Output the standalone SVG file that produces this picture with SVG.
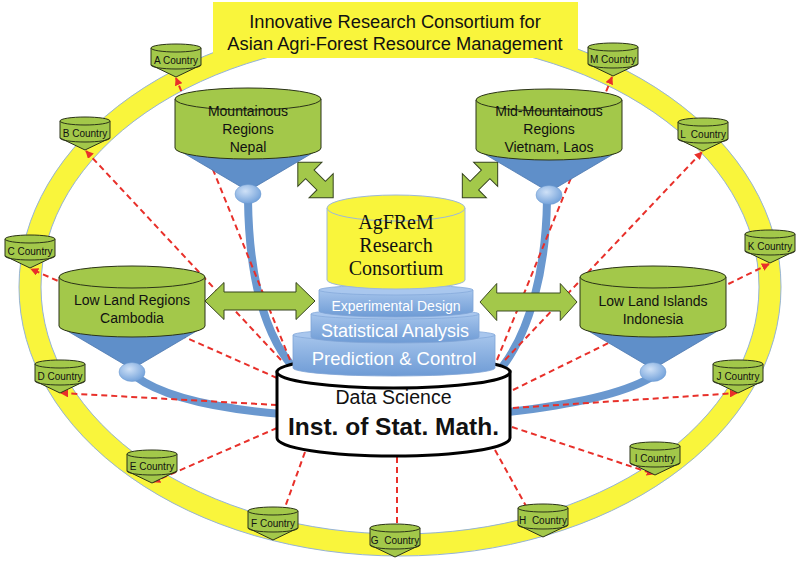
<svg xmlns="http://www.w3.org/2000/svg" width="800" height="567" viewBox="0 0 800 567">
<defs>
  <linearGradient id="tier" x1="0" y1="0" x2="0" y2="1">
    <stop offset="0" stop-color="#A6C5EC"/>
    <stop offset="1" stop-color="#6E9BD5"/>
  </linearGradient>
  <radialGradient id="ballg" cx="0.4" cy="0.35" r="0.7">
    <stop offset="0" stop-color="#CFE1F7"/>
    <stop offset="1" stop-color="#6F9FD9"/>
  </radialGradient>
  <marker id="ah" viewBox="0 0 10 10" refX="9" refY="5" markerWidth="4" markerHeight="4" orient="auto">
    <path d="M0,0 L10,5 L0,10 Z" fill="#E8302A"/>
  </marker>
  <g id="cshape">
    <path class="green" d="M-25,-29 V-12 L0,0 L25,-12 V-29 Z"/>
    <path class="cline" d="M-25,-12 A25 4 0 0 0 25,-12"/>
    <ellipse class="green" cx="0" cy="-29" rx="25" ry="4"/>
  </g>
  <g id="rshape">
    <polygon class="funnel" points="-73,49 73,49 0,92"/>
    <ellipse class="ball" cx="0" cy="95" rx="13" ry="9.5"/>
    <path class="green" d="M-73,0 V49 A73 11 0 0 0 73,49 V0 Z"/>
    <ellipse class="green" cx="0" cy="0" rx="73" ry="11"/>
  </g>
  <polygon id="harrowL" class="arrow" points="-55,0 -36,-18.5 -36,-9 36,-9 36,-18.5 55,0 36,18.5 36,9 -36,9 -36,18.5"/>
  <polygon id="darrow" class="arrow" points="-25,0 -8,-17 -8,-6 8,-6 8,-17 25,0 8,17 8,6 -8,6 -8,17"/>
</defs>
<style>
  .ring{fill:none;stroke:#F9F53C;stroke-width:22}
  .ringedge{fill:none;stroke:#95B3D7;stroke-width:1}
  .dash{fill:none;stroke:#E8302A;stroke-width:2;stroke-dasharray:6 4}
  .arr{marker-end:url(#ah)}
  .tube{fill:none;stroke:#6A98CF;stroke-width:8;stroke-linecap:round}
  .green{fill:#A3C84A;stroke:#2B3318;stroke-width:1}
  .cline{fill:none;stroke:#2B3318;stroke-width:1}
  .funnel{fill:#5F8FC9;stroke:#4A76AE;stroke-width:0.8}
  .ball{fill:url(#ballg);stroke:#6A98CF;stroke-width:0.5}
  .arrow{fill:#A3C84A;stroke:#34421C;stroke-width:1}
  .t{font-family:"Liberation Sans",Arial,sans-serif;text-anchor:middle;fill:#111}
  .ct{font-size:10px;white-space:pre}
  .rt{font-size:14px}
  .title{font-size:18.3px}
  .serif{font-family:"Liberation Serif","Times New Roman",serif;font-size:20px;text-anchor:middle;fill:#111}
  .tierbody{fill:url(#tier);stroke:#7FA3D6;stroke-width:0.8}
  .tiertop{fill:#A9C7EE;stroke:#85A9DA;stroke-width:0.8}
  .wt{fill:#fff}
</style>

<g id="ring">
  <ellipse class="ring" cx="400" cy="287" rx="370" ry="258"/>
  <ellipse class="ringedge" cx="400" cy="287" rx="381" ry="269"/>
  <ellipse class="ringedge" cx="400" cy="287" rx="359" ry="247"/>
</g>

<g id="title">
  <rect x="213" y="2" width="365" height="56" fill="#F9F53C"/>
  <text class="t title" x="395" y="28">Innovative Research Consortium for</text>
  <text class="t title" x="395" y="50">Asian Agri-Forest Resource Management</text>
</g>

<g id="connectors">
  <path class="tube" d="M248,200 C249,270 262,330 292,366"/>
  <path class="tube" d="M547,200 C546,270 530,330 503,366"/>
  <path class="tube" d="M135,376 C160,395 210,408 282,414"/>
  <path class="tube" d="M650,378 C620,395 570,405 508,412"/>

  <line class="dash arr" x1="290" y1="360" x2="176" y2="78"/>
  <line class="dash arr" x1="281" y1="360" x2="86" y2="151"/>
  <line class="dash arr" x1="277" y1="378" x2="31" y2="269"/>
  <line class="dash arr" x1="277" y1="405" x2="61" y2="393"/>
  <line class="dash arr" x1="277" y1="428" x2="153" y2="482"/>
  <line class="dash" x1="305" y1="452" x2="284" y2="510"/>
  <line class="dash" x1="397" y1="457" x2="397" y2="526"/>
  <line class="dash" x1="495" y1="450" x2="526" y2="506"/>
  <line class="dash arr" x1="512" y1="427" x2="654" y2="474"/>
  <line class="dash arr" x1="513" y1="408" x2="737" y2="393"/>
  <line class="dash arr" x1="513" y1="390" x2="769" y2="264"/>
  <line class="dash arr" x1="505" y1="360" x2="702" y2="152"/>
  <line class="dash arr" x1="497" y1="360" x2="612" y2="77"/>

  <use href="#harrowL" transform="translate(260,301)"/>
  <use href="#harrowL" transform="translate(528.5,302) scale(0.882,1)"/>
  <use href="#darrow" transform="translate(315.5,180) rotate(45)"/>
  <use href="#darrow" transform="translate(480,180) rotate(-45)"/>
</g>

<g id="region-nepal" transform="translate(248,99)">
  <use href="#rshape"/>
  <text class="t rt" x="0" y="17">Mountainous</text>
  <text class="t rt" x="0" y="35">Regions</text>
  <text class="t rt" x="0" y="53">Nepal</text>
</g>
<g id="region-vietnam" transform="translate(549,100)">
  <use href="#rshape"/>
  <text class="t rt" x="0" y="16">Mid-Mountainous</text>
  <text class="t rt" x="0" y="34">Regions</text>
  <text class="t rt" x="0" y="52">Vietnam, Laos</text>
</g>
<g id="region-cambodia" transform="translate(132,277)">
  <use href="#rshape"/>
  <text class="t rt" x="0" y="28">Low Land Regions</text>
  <text class="t rt" x="0" y="46">Cambodia</text>
</g>
<g id="region-indonesia" transform="translate(653,277)">
  <use href="#rshape"/>
  <text class="t rt" x="0" y="29">Low Land Islands</text>
  <text class="t rt" x="0" y="47">Indonesia</text>
</g>

<g id="data-science">
  <path d="M277,372 V438 A116.5 18 0 0 0 510,438 V372 Z" fill="#fff" stroke="#000" stroke-width="3"/>
  <ellipse cx="393.5" cy="372" rx="116.5" ry="16" fill="#fff" stroke="#000" stroke-width="3"/>
  <text class="t" x="393.5" y="404" font-size="19.5">Data Science</text>
  <text class="t" x="393.5" y="435" font-size="24.5" font-weight="bold">Inst. of Stat. Math.</text>
</g>

<g id="prediction-control">
  <path class="tierbody" d="M293,335 V368 A101 8 0 0 0 495,368 V335 Z"/>
  <ellipse class="tiertop" cx="394" cy="335" rx="101" ry="6"/>
  <text class="t wt" x="394" y="365" font-size="18.5">Prediction &amp; Control</text>
</g>
<g id="statistical-analysis">
  <path class="tierbody" d="M311,314 V337 A84 6 0 0 0 479,337 V314 Z"/>
  <ellipse class="tiertop" cx="395" cy="314" rx="84" ry="5"/>
  <text class="t wt" x="395" y="337" font-size="18">Statistical Analysis</text>
</g>
<g id="experimental-design">
  <path class="tierbody" d="M319,290 V311 A77 6 0 0 0 473,311 V290 Z"/>
  <ellipse class="tiertop" cx="396" cy="290" rx="77" ry="5"/>
  <text class="t wt" x="396" y="311" font-size="14">Experimental Design</text>
</g>
<g id="agfrem">
  <path d="M327,208 V280 A69 9 0 0 0 465,280 V208 Z" fill="#F9F53C" stroke="#9DB8D9" stroke-width="1"/>
  <ellipse cx="396" cy="208" rx="69" ry="13" fill="#F9F53C" stroke="#9DB8D9" stroke-width="1"/>
  <text class="serif" x="396" y="229">AgFReM</text>
  <text class="serif" x="396" y="252">Research</text>
  <text class="serif" x="396" y="275">Consortium</text>
</g>

<g id="country-a" transform="translate(176,77)"><use href="#cshape"/><text class="t ct" x="0" y="-13">A Country</text></g>
<g id="country-b" transform="translate(85,150)"><use href="#cshape"/><text class="t ct" x="0" y="-13">B Country</text></g>
<g id="country-c" transform="translate(30,268)"><use href="#cshape"/><text class="t ct" x="0" y="-13">C Country</text></g>
<g id="country-d" transform="translate(60,393)"><use href="#cshape"/><text class="t ct" x="0" y="-13">D Country</text></g>
<g id="country-e" transform="translate(152,483)"><use href="#cshape"/><text class="t ct" x="0" y="-13">E Country</text></g>
<g id="country-f" transform="translate(273,540)"><use href="#cshape"/><text class="t ct" x="0" y="-13">F Country</text></g>
<g id="country-g" transform="translate(395,557)"><use href="#cshape"/><text class="t ct" x="0" y="-13">G  Country</text></g>
<g id="country-h" transform="translate(543,537)"><use href="#cshape"/><text class="t ct" x="0" y="-13">H  Country</text></g>
<g id="country-i" transform="translate(655,475)"><use href="#cshape"/><text class="t ct" x="0" y="-13">I Country</text></g>
<g id="country-j" transform="translate(738,393)"><use href="#cshape"/><text class="t ct" x="0" y="-13">J Country</text></g>
<g id="country-k" transform="translate(770,263)"><use href="#cshape"/><text class="t ct" x="0" y="-13">K Country</text></g>
<g id="country-l" transform="translate(703,151)"><use href="#cshape"/><text class="t ct" x="0" y="-13">L  Country</text></g>
<g id="country-m" transform="translate(613,76)"><use href="#cshape"/><text class="t ct" x="0" y="-13">M Country</text></g>
</svg>
